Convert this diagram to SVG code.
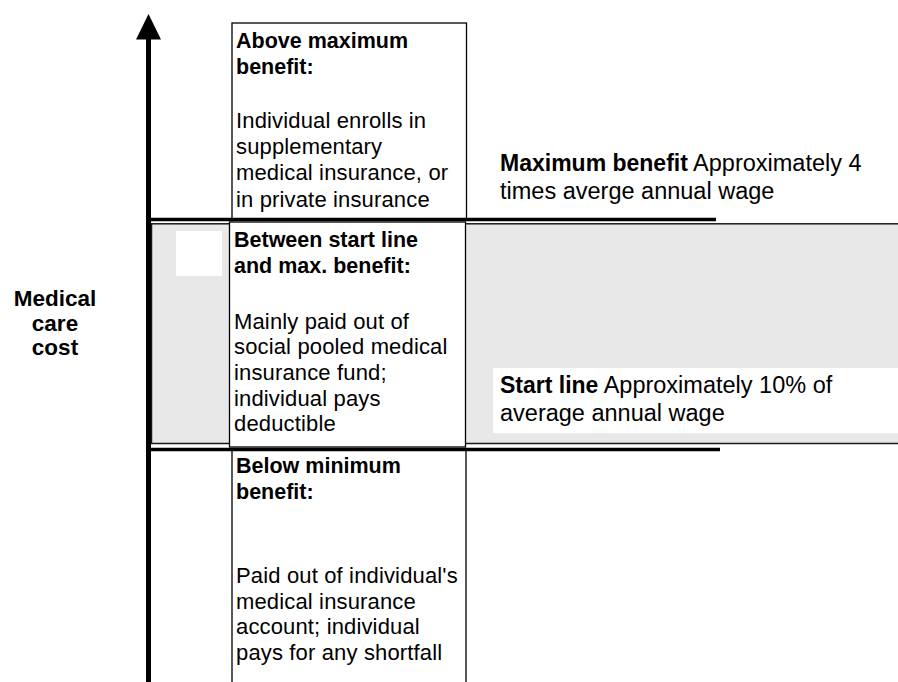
<svg xmlns="http://www.w3.org/2000/svg" width="898" height="682" viewBox="0 0 898 682">
  <style>
    .box { fill: #ffffff; stroke: #000000; stroke-width: 1.3; }
    .band { fill: #e8e8e8; stroke: #1a1a1a; stroke-width: 1.5; }
    .rule { stroke: #000000; stroke-width: 3.5; fill: none; }
    .axis { stroke: #000000; stroke-width: 5; fill: none; }
    text { font-family: "Liberation Sans", Arial, Helvetica, sans-serif; fill: #000000; }
    .title { font-size: 21.5px; font-weight: bold; }
    .body { font-size: 22px; letter-spacing: 0.15px; }
    .lbl { font-size: 23.5px; }
    .lblb { font-size: 23px; font-weight: bold; }
    .axislbl { font-size: 22.5px; font-weight: bold; text-anchor: middle; }
  </style>

  <rect width="898" height="682" fill="#ffffff"/>

  <!-- shaded band between start line and maximum benefit -->
  <g id="band">
    <rect class="band" x="151.5" y="223.8" width="760" height="219.7"/>
    <rect x="176" y="231" width="46" height="45" fill="#ffffff"/>
    <rect x="493" y="368" width="410" height="65" fill="#ffffff"/>
  </g>

  <!-- vertical axis -->
  <g id="axis">
    <line class="axis" x1="148.5" y1="36" x2="148.5" y2="682"/>
    <polygon points="148.5,14 136,39.5 161,39.5" fill="#000000"/>
    <text class="axislbl" x="55" y="306">Medical</text>
    <text class="axislbl" x="55" y="331">care</text>
    <text class="axislbl" x="55" y="355">cost</text>
  </g>

  <!-- tier boxes -->
  <g id="above-max">
    <rect class="box" x="232" y="23" width="234.5" height="196"/>
    <text class="title" x="236" y="48">Above maximum</text>
    <text class="title" x="236" y="74">benefit:</text>
    <text class="body" x="236" y="128">Individual enrolls in</text>
    <text class="body" x="236" y="154">supplementary</text>
    <text class="body" x="236" y="180">medical insurance, or</text>
    <text class="body" x="236" y="207">in private insurance</text>
  </g>

  <g id="between">
    <rect class="box" x="229.5" y="222" width="236" height="225"/>
    <text class="title" x="234" y="247">Between start line</text>
    <text class="title" x="234" y="273">and max. benefit:</text>
    <text class="body" x="234" y="329">Mainly paid out of</text>
    <text class="body" x="234" y="354">social pooled medical</text>
    <text class="body" x="234" y="380">insurance fund;</text>
    <text class="body" x="234" y="406">individual pays</text>
    <text class="body" x="234" y="431">deductible</text>
  </g>

  <g id="below-min">
    <rect class="box" x="232" y="450" width="234" height="245"/>
    <text class="title" x="236" y="473">Below minimum</text>
    <text class="title" x="236" y="499">benefit:</text>
    <text class="body" x="236" y="583">Paid out of individual's</text>
    <text class="body" x="236" y="609">medical insurance</text>
    <text class="body" x="236" y="634">account; individual</text>
    <text class="body" x="236" y="660">pays for any shortfall</text>
  </g>

  <!-- threshold lines -->
  <g id="thresholds">
    <line class="rule" x1="146" y1="219.5" x2="716" y2="219.5"/>
    <line class="rule" x1="146" y1="449.5" x2="720" y2="449.5"/>
  </g>

  <g id="max-label">
    <text x="500" y="171"><tspan class="lblb">Maximum benefit</tspan><tspan class="lbl"> Approximately 4</tspan></text>
    <text class="lbl" x="500" y="199">times averge annual wage</text>
  </g>

  <g id="start-label">
    <text x="500" y="393"><tspan class="lblb">Start line</tspan><tspan class="lbl"> Approximately 10% of</tspan></text>
    <text class="lbl" x="500" y="421">average annual wage</text>
  </g>
</svg>
